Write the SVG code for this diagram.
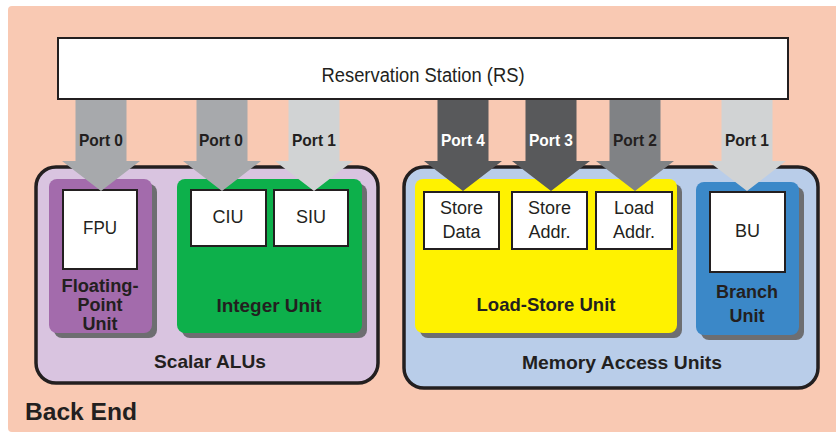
<svg xmlns="http://www.w3.org/2000/svg" width="836" height="433" viewBox="0 0 836 433">
<style>
.t{font-family:"Liberation Sans",Arial,sans-serif;fill:#231f20;text-anchor:middle}
.b{font-weight:bold}
.w{fill:#ffffff}
.box{fill:#ffffff;stroke:#231f20;stroke-width:2}
.grp{stroke:#231f20;stroke-width:3.5}
.sh{fill:#6d6e71}
</style>
<rect x="8" y="6" width="840" height="426" rx="4" fill="#f9c9b3"/>

<g id="rs">
<rect x="58" y="38" width="730" height="61" class="box"/>
<text x="423" y="82" class="t" font-size="20" textLength="203" lengthAdjust="spacingAndGlyphs">Reservation Station (RS)</text>
</g>

<g id="scalar-alus">
<rect x="36" y="167" width="342" height="216" rx="20" fill="#d9c4e0" class="grp"/>
<text x="210" y="368" class="t b" font-size="19" textLength="112" lengthAdjust="spacingAndGlyphs">Scalar ALUs</text>
</g>
<g id="fp-unit">
<rect x="54" y="184" width="103" height="154" rx="8" class="sh"/>
<rect x="49" y="179" width="103" height="154" rx="8" fill="#a36bac"/>
<text x="100" y="292" class="t b" font-size="18" textLength="77" lengthAdjust="spacingAndGlyphs">Floating-</text>
<text x="100" y="311" class="t b" font-size="18">Point</text>
<text x="100" y="330" class="t b" font-size="18">Unit</text>
</g>
<g id="fpu">
<rect x="63" y="190" width="74" height="79" class="box"/>
<text x="100" y="234" class="t" font-size="18" textLength="34" lengthAdjust="spacingAndGlyphs">FPU</text>
</g>
<g id="integer-unit">
<rect x="182" y="184" width="185" height="154" rx="8" class="sh"/>
<rect x="177" y="179" width="185" height="154" rx="8" fill="#0db04b"/>
<text x="269" y="312" class="t b" font-size="19" textLength="105" lengthAdjust="spacingAndGlyphs">Integer Unit</text>
</g>
<g id="ciu">
<rect x="191" y="190" width="75" height="56" class="box"/>
<text x="228" y="223" class="t" font-size="18">CIU</text>
</g>
<g id="siu">
<rect x="274" y="190" width="74" height="56" class="box"/>
<text x="311" y="223" class="t" font-size="18">SIU</text>
</g>

<g id="memory-access-units">
<rect x="404" y="167" width="414" height="221" rx="20" fill="#b9cde9" class="grp"/>
<text x="622" y="369" class="t b" font-size="19" textLength="200" lengthAdjust="spacingAndGlyphs">Memory Access Units</text>
</g>
<g id="load-store-unit">
<rect x="420" y="184" width="262" height="154" rx="8" class="sh"/>
<rect x="415" y="179" width="262" height="154" rx="8" fill="#fff200"/>
<text x="546" y="311" class="t b" font-size="19" textLength="139" lengthAdjust="spacingAndGlyphs">Load-Store Unit</text>
</g>
<g id="store-data">
<rect x="424" y="192" width="75" height="57" class="box"/>
<text x="461.5" y="214" class="t" font-size="18">Store</text>
<text x="461.5" y="238" class="t" font-size="18">Data</text>
</g>
<g id="store-addr">
<rect x="512" y="192" width="75" height="57" class="box"/>
<text x="549.5" y="214" class="t" font-size="18">Store</text>
<text x="549.5" y="238" class="t" font-size="18">Addr.</text>
</g>
<g id="load-addr">
<rect x="596" y="192" width="76" height="57" class="box"/>
<text x="634" y="214" class="t" font-size="18">Load</text>
<text x="634" y="238" class="t" font-size="18">Addr.</text>
</g>
<g id="branch-unit">
<rect x="701" y="187" width="103" height="153" rx="8" class="sh"/>
<rect x="696" y="182" width="103" height="153" rx="8" fill="#3b88c8"/>
<text x="747" y="298" class="t b" font-size="18">Branch</text>
<text x="747" y="322" class="t b" font-size="18">Unit</text>
</g>
<g id="bu">
<rect x="710" y="192" width="75" height="80" class="box"/>
<text x="747.5" y="237" class="t" font-size="18">BU</text>
</g>

<g id="connectors">
<polygon points="75.5,100 126.5,100 126.5,161 140,161 101,191 62,161 75.5,161" fill="#a7a9ac"/>
<polygon points="196.5,100 247.5,100 247.5,161 261,161 222,191 183,161 196.5,161" fill="#a7a9ac"/>
<polygon points="288.5,100 339.5,100 339.5,161 353,161 314,191 275,161 288.5,161" fill="#d1d3d4"/>
<polygon points="437.5,100 488.5,100 488.5,161 502,161 463,191 424,161 437.5,161" fill="#58595b"/>
<polygon points="525.5,100 576.5,100 576.5,161 590,161 551,191 512,161 525.5,161" fill="#58595b"/>
<polygon points="609.5,100 660.5,100 660.5,161 674,161 635,191 596,161 609.5,161" fill="#808285"/>
<polygon points="721.5,100 772.5,100 772.5,161 786,161 747,191 708,161 721.5,161" fill="#d1d3d4"/>
<text x="101" y="146" class="t b" font-size="17" textLength="44" lengthAdjust="spacingAndGlyphs">Port 0</text>
<text x="221" y="146" class="t b" font-size="17" textLength="44" lengthAdjust="spacingAndGlyphs">Port 0</text>
<text x="314" y="146" class="t b" font-size="17" textLength="44" lengthAdjust="spacingAndGlyphs">Port 1</text>
<text x="463" y="146" class="t b w" font-size="17" textLength="44" lengthAdjust="spacingAndGlyphs">Port 4</text>
<text x="551" y="146" class="t b w" font-size="17" textLength="44" lengthAdjust="spacingAndGlyphs">Port 3</text>
<text x="635" y="146" class="t b" font-size="17" textLength="44" lengthAdjust="spacingAndGlyphs">Port 2</text>
<text x="747" y="146" class="t b" font-size="17" textLength="44" lengthAdjust="spacingAndGlyphs">Port 1</text>
</g>

<text x="25" y="420" class="t b" font-size="24" text-anchor="start" style="text-anchor:start" textLength="112" lengthAdjust="spacingAndGlyphs">Back End</text>
</svg>
